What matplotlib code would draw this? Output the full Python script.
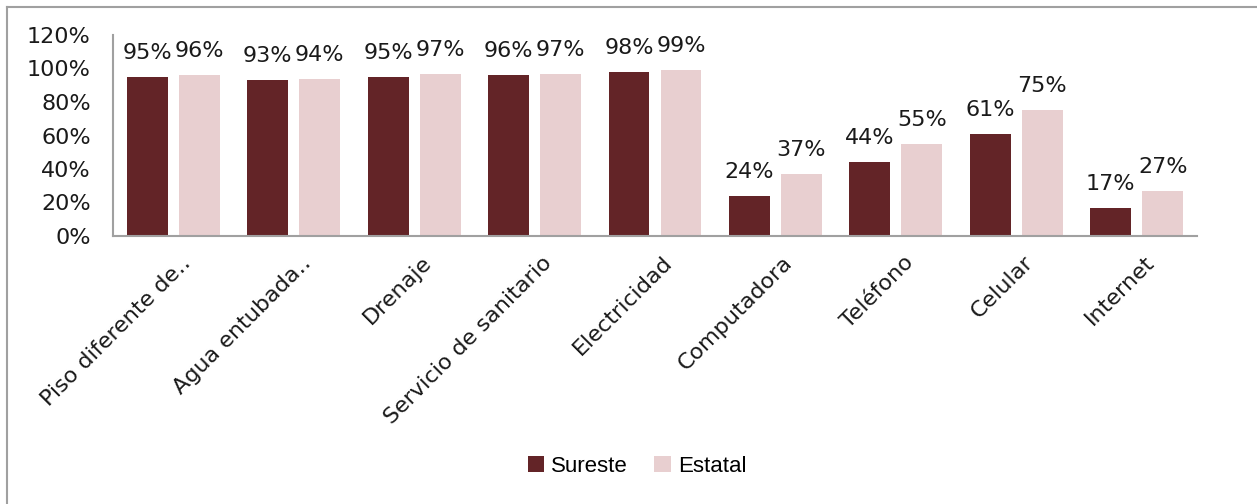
import matplotlib
matplotlib.use("Agg")
import matplotlib.pyplot as plt
import numpy as np
from matplotlib.lines import Line2D
import matplotlib.transforms as mtransforms

categories = ["Piso diferente de\u2025", "Agua entubada\u2025", "Drenaje",
              "Servicio de sanitario", "Electricidad", "Computadora",
              "Teléfono", "Celular", "Internet"]
sureste = [0.95, 0.93, 0.95, 0.96, 0.98, 0.24, 0.44, 0.61, 0.17]
estatal = [0.96, 0.94, 0.97, 0.97, 0.99, 0.37, 0.55, 0.75, 0.27]
yticks = [0, 0.2, 0.4, 0.6, 0.8, 1.0, 1.2]
ytick_labels = ["0%", "20%", "40%", "60%", "80%", "100%", "120%"]

c_sur = "#632427"
c_est = "#E8CFD0"
W, H = 1257, 504
fig = plt.figure(figsize=(W / 100, H / 100), dpi=100)
ax = fig.add_axes([113 / W, 1 - 236 / H, (1197 - 113) / W, (236 - 35) / H])

x = np.arange(len(categories))
bw = 0.34
off = 0.216
b1 = ax.bar(x - off, sureste, bw, color=c_sur, label="Sureste")
b2 = ax.bar(x + off, estatal, bw, color=c_est, label="Estatal")

lab_font = dict(family="DejaVu Sans", fontsize=16, color="#1a1a1a")
for xs, vals in ((x - off, sureste), (x + off, estatal)):
    for xi, v in zip(xs, vals):
        ax.annotate(f"{round(v * 100)}%", (xi, v), xytext=(0, 10),
                    textcoords="offset points", ha="center", va="bottom",
                    **lab_font)

ax.set_xlim(-0.5, len(categories) - 0.5)
ax.set_ylim(0, 1.2)
ax.set_yticks(yticks)
ax.set_yticklabels(ytick_labels, **lab_font)
ax.tick_params(axis="y", length=0, pad=16)
ax.set_xticks(x)
ax.set_xticklabels(categories, rotation=45, ha="right", va="center",
                   rotation_mode="anchor", **lab_font)
ax.tick_params(axis="x", length=0, pad=17)
shift = mtransforms.ScaledTranslation(14 / 100, 0, fig.dpi_scale_trans)
for t in ax.get_xticklabels():
    t.set_transform(t.get_transform() + shift)

for s in ["top", "right"]:
    ax.spines[s].set_visible(False)
for s in ["left", "bottom"]:
    ax.spines[s].set_color("#A0A0A0")
    ax.spines[s].set_linewidth(1.5)

leg = fig.legend(handles=[b1, b2], loc="center", bbox_to_anchor=(637 / W, 1 - 466 / H),
                 ncol=2, frameon=False, handlelength=0.75, handleheight=0.75,
                 handletextpad=0.3, columnspacing=1.2,
                 prop=dict(family="Liberation Sans", size=16))

# outer border (left and top visible)
fig.add_artist(Line2D([6.5 / W, 6.5 / W], [0, 1 - 6.5 / H], transform=fig.transFigure,
                      color="#A0A0A0", lw=1.5))
fig.add_artist(Line2D([6.5 / W, 1], [1 - 6.5 / H, 1 - 6.5 / H], transform=fig.transFigure,
                      color="#A0A0A0", lw=1.5))

fig.savefig("out.png", dpi=100)
